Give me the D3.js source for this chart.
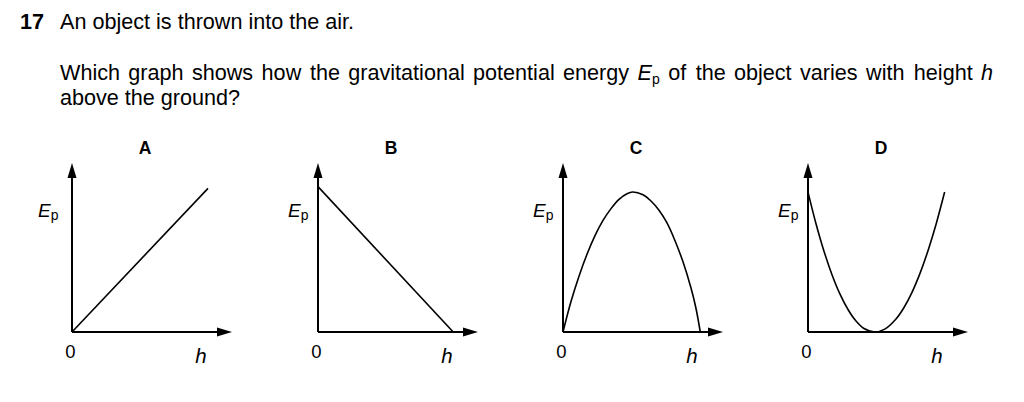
<!DOCTYPE html>
<html><head><meta charset="utf-8">
<script src="https://cdn.jsdelivr.net/npm/d3@7/dist/d3.min.js"></script>
<style>
body{margin:0;background:#fff}
svg{display:block}
text{font-family:"Liberation Sans",Arial,Helvetica,sans-serif;fill:#000}
</style>
</head><body>
<svg id="chart" width="1024" height="402"></svg>
<script>
// ---------- data ----------
const questionNumber = "17";
const questionLine1 = "An object is thrown into the air.";
const questionLine2Words = ["Which","graph","shows","how","the","gravitational","potential","energy","Ep","of","the","object","varies","with","height","h"];
const questionLine3 = "above the ground?";
const panelLetters = ["A","B","C","D"];
const originLabel = "0";
const xAxisLabel = "h";
const yAxisLabelMain = "E";
const yAxisLabelSub = "p";

// height h (x) and potential energy Ep (y) for each option, in arbitrary units 0..10
const hA  = [0, 8.5];
const EpA = [0, 8.5];
const hB  = [0, 8.45];
const EpB = [8.6, 0];
const hC  = [0, 0.5, 1.0, 1.5, 2.0, 2.5, 3.0, 3.5, 4.0, 4.35, 5.0, 5.5, 6.0, 6.5, 7.0, 7.5, 8.0, 8.3, 8.58];
const EpC = [0, 1.8, 3.3, 4.6, 5.7, 6.6, 7.3, 7.85, 8.18, 8.28, 8.12, 7.75, 7.2, 6.45, 5.4, 4.15, 2.6, 1.45, 0];
const hD  = [0, 0.5, 1.0, 1.5, 2.0, 2.5, 3.0, 3.5, 4.17, 4.8, 5.5, 6.0, 6.5, 7.0, 7.5, 8.0, 8.54];
const EpD = [8.28, 6.41, 4.78, 3.39, 2.24, 1.33, 0.65, 0.21, 0, 0.17, 0.77, 1.45, 2.35, 3.47, 4.81, 6.36, 8.28];
const axisMax = 10;

const seriesH  = [hA, hB, hC, hD];
const seriesEp = [EpA, EpB, EpC, EpD];

// ---------- layout ----------
const svg = d3.select("#chart");
const originsX = [72, 318, 563, 808];
const originY = 332, topY = 163, axisLen = 160;
const yLabelOffsets = [-34, -30, -30, -30];
const fontMain = 21.6;

// ---------- question text ----------
svg.append("text").attr("x", 20).attr("y", 29).attr("font-size", fontMain)
  .attr("font-weight", "bold").text(questionNumber);
svg.append("text").attr("x", 60).attr("y", 29).attr("font-size", fontMain).text(questionLine1);

// justified line 2
const lineStart = 60, lineEnd = 993, line2Y = 80;
const wordNodes = questionLine2Words.map(w => {
  const t = svg.append("text").attr("y", line2Y).attr("font-size", fontMain);
  if (w === "Ep") {
    t.append("tspan").attr("font-style", "italic").text(yAxisLabelMain);
    t.append("tspan").attr("font-size", 14).attr("dy", 4).text(yAxisLabelSub);
  } else if (w === "h") {
    t.append("tspan").attr("font-style", "italic").text(w);
  } else {
    t.text(w);
  }
  return t;
});
const widths = wordNodes.map(t => t.node().getBBox().width);
const totalW = d3.sum(widths);
const gap = (lineEnd - lineStart - totalW) / (wordNodes.length - 1);
let cx = lineStart;
wordNodes.forEach((t, i) => { t.attr("x", cx); cx += widths[i] + gap; });

svg.append("text").attr("x", 60).attr("y", 105).attr("font-size", fontMain).text(questionLine3);

// ---------- panels ----------
panelLetters.forEach((letter, i) => {
  const ox = originsX[i];
  const x = d3.scaleLinear().domain([0, axisMax]).range([ox, ox + axisLen]);
  const y = d3.scaleLinear().domain([0, axisMax]).range([originY, topY]);
  const g = svg.append("g");

  // panel letter
  g.append("text").attr("x", x(0) + 73).attr("y", 154).attr("text-anchor", "middle")
    .attr("font-size", 17.5).attr("font-weight", "bold").text(letter);

  const headLen = 15, headHalf = 4.5;
  // y axis
  g.append("line").attr("x1", x(0)).attr("y1", y(0)).attr("x2", x(0)).attr("y2", y(axisMax) + headLen - 1)
    .attr("stroke", "#000").attr("stroke-width", 2);
  g.append("path").attr("d", `M${x(0)},${y(axisMax)} L${x(0) - headHalf},${y(axisMax) + headLen} L${x(0) + headHalf},${y(axisMax) + headLen} Z`)
    .attr("fill", "#000");
  // x axis
  g.append("line").attr("x1", x(0)).attr("y1", y(0)).attr("x2", x(axisMax) - headLen + 1).attr("y2", y(0))
    .attr("stroke", "#000").attr("stroke-width", 2);
  g.append("path").attr("d", `M${x(axisMax)},${y(0)} L${x(axisMax) - headLen},${y(0) - headHalf} L${x(axisMax) - headLen},${y(0) + headHalf} Z`)
    .attr("fill", "#000");

  // curve
  const pts = seriesH[i].map((h, k) => [h, seriesEp[i][k]]);
  const line = d3.line().x(d => x(d[0])).y(d => y(d[1]))
    .curve(pts.length > 2 ? d3.curveCatmullRom.alpha(0.5) : d3.curveLinear);
  g.append("path").datum(pts).attr("d", line).attr("fill", "none")
    .attr("stroke", "#000").attr("stroke-width", 1.6);

  // labels
  const yl = g.append("text").attr("x", x(0) + yLabelOffsets[i]).attr("y", 217).attr("font-size", 19);
  yl.append("tspan").attr("font-style", "italic").text(yAxisLabelMain);
  yl.append("tspan").attr("font-size", 14).attr("dy", 3).text(yAxisLabelSub);

  g.append("text").attr("x", x(0) - 1.5).attr("y", 358).attr("text-anchor", "middle")
    .attr("font-size", 18.5).text(originLabel);
  g.append("text").attr("x", x(0) + 129).attr("y", 363).attr("text-anchor", "middle")
    .attr("font-size", 20.5).attr("font-style", "italic").text(xAxisLabel);
});
</script>
</body></html>
